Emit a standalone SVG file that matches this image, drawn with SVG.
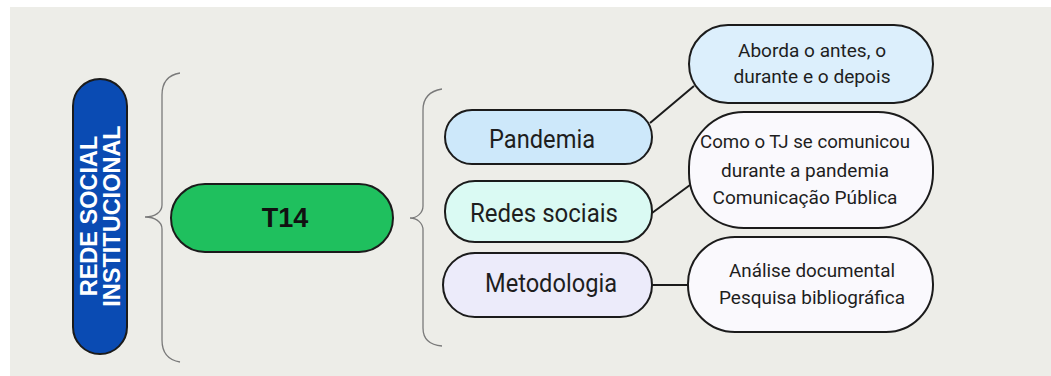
<svg xmlns="http://www.w3.org/2000/svg" width="1051" height="376" viewBox="0 0 1051 376">
<style>
.pill{stroke:#1b1b1b;stroke-width:2}
.brace{fill:none;stroke:#7a7a7a;stroke-width:1.3}
.conn{stroke:#1b1b1b;stroke-width:2;fill:none}
.lbl{font-family:Roboto,"Liberation Sans",sans-serif;fill:#1e1e1e;text-anchor:middle}
.big{font-size:25px}
.small{font-size:19px}
</style>
<rect x="0" y="0" width="1051" height="376" fill="#ffffff"/>
<rect x="10" y="7" width="1041" height="369" fill="#EDEDE8"/>
<g id="braces">
<path class="brace" d="M180,73 C168,75 162,82 162,95 L162,205 C162,212 155,217 145,217 C155,217 162,222 162,229 L162,340 C162,353 168,360 180,362"/>
<path class="brace" d="M442,89 C430,91 423,98 423,110 L423,206 C423,213 417,218 410,218 C417,218 423,223 423,230 L423,328 C423,340 430,345 442,346"/>
</g>
<g id="connectors">
<line class="conn" x1="650" y1="123" x2="694" y2="86"/>
<line class="conn" x1="652" y1="213" x2="690" y2="185"/>
<line class="conn" x1="652" y1="285" x2="689" y2="285"/>
</g>
<g id="node-rede">
<rect class="pill" x="73" y="79" width="54" height="275" rx="27" fill="#0A4BB3"/>
<g transform="translate(100,216) rotate(-90)" font-family="'Liberation Sans',Arial,sans-serif" font-weight="bold" font-size="23.5" fill="#ffffff" text-anchor="middle">
<text x="0" y="-3">REDE SOCIAL</text>
<text x="0" y="20">INSTITUCIONAL</text>
</g>
</g>
<g id="node-t14">
<rect class="pill" x="171" y="184" width="222" height="68" rx="34" fill="#1FC05E"/>
<text x="285" y="227" font-family="'Liberation Sans',Arial,sans-serif" font-weight="bold" font-size="27" fill="#111" text-anchor="middle">T14</text>
</g>
<g id="node-pandemia">
<rect class="pill" x="445" y="110" width="207" height="54" rx="27" fill="#CDE8FA"/>
<text class="lbl big" x="542" y="148" textLength="106" lengthAdjust="spacingAndGlyphs">Pandemia</text>
</g>
<g id="node-redes">
<rect class="pill" x="445" y="181" width="207" height="61" rx="30" fill="#DAFAF3"/>
<text class="lbl big" x="544" y="222" textLength="148" lengthAdjust="spacingAndGlyphs">Redes sociais</text>
</g>
<g id="node-metodologia">
<rect class="pill" x="443" y="253" width="209" height="64" rx="32" fill="#ECEBFA"/>
<text class="lbl big" x="551" y="292" textLength="132" lengthAdjust="spacingAndGlyphs">Metodologia</text>
</g>
<g id="node-aborda">
<rect class="pill" x="689" y="25" width="244" height="78" rx="39" fill="#DCEFFC"/>
<text class="lbl small" x="812" y="57" textLength="148" lengthAdjust="spacingAndGlyphs">Aborda o antes, o</text>
<text class="lbl small" x="812" y="83" textLength="157" lengthAdjust="spacingAndGlyphs">durante e o depois</text>
</g>
<g id="node-como">
<rect class="pill" x="689" y="112" width="244" height="116" rx="55" fill="#FAF9FD"/>
<text class="lbl small" x="805" y="148" textLength="210" lengthAdjust="spacingAndGlyphs">Como o TJ se comunicou</text>
<text class="lbl small" x="805" y="177" textLength="168" lengthAdjust="spacingAndGlyphs">durante a pandemia</text>
<text class="lbl small" x="805" y="204" textLength="185" lengthAdjust="spacingAndGlyphs">Comunicação Pública</text>
</g>
<g id="node-analise">
<rect class="pill" x="688" y="237" width="245" height="95" rx="47" fill="#FAF9FD"/>
<text class="lbl small" x="812" y="277" textLength="166" lengthAdjust="spacingAndGlyphs">Análise documental</text>
<text class="lbl small" x="812" y="304" textLength="186" lengthAdjust="spacingAndGlyphs">Pesquisa bibliográfica</text>
</g>
</svg>
